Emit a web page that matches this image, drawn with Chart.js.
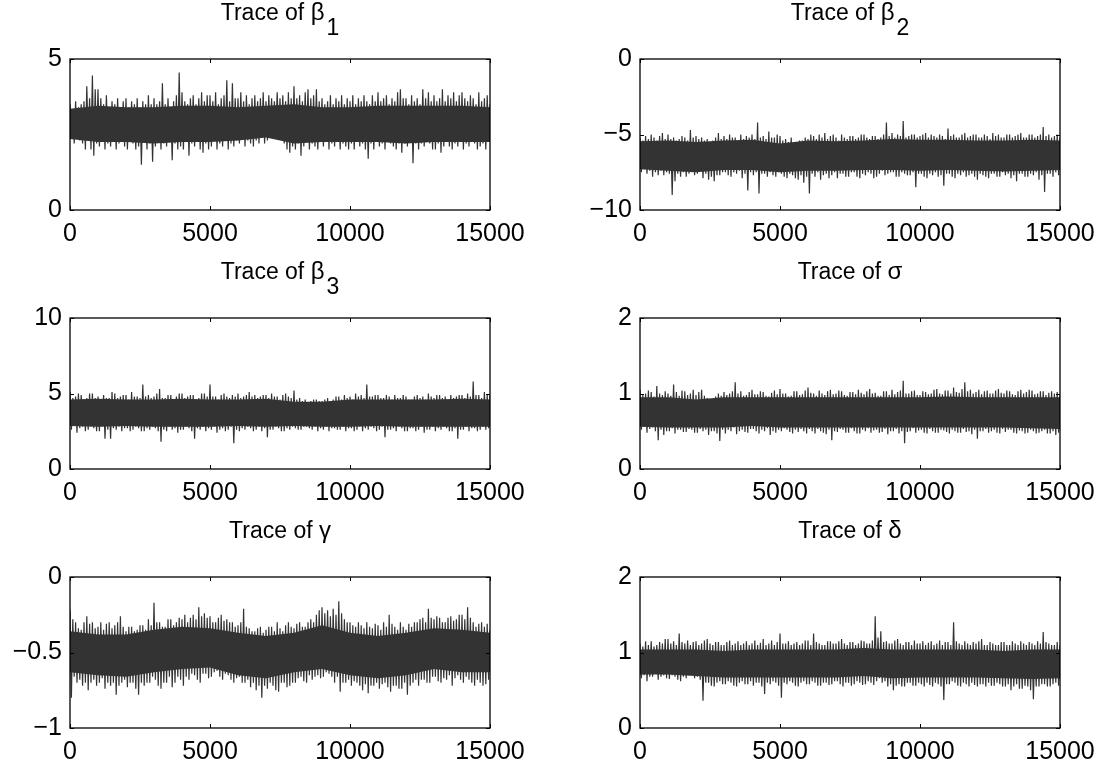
<!DOCTYPE html>
<html>
<head>
<meta charset="utf-8">
<script src="https://cdn.jsdelivr.net/npm/chart.js@4.4.1/dist/chart.umd.min.js"></script>
<style>
  html, body { margin: 0; padding: 0; background: #fff; }
  #wrap { position: relative; width: 1104px; height: 767px; overflow: hidden; }
  #wrap canvas { position: absolute; }
</style>
</head>
<body>
<div id="wrap"></div>
<script>
// iteration axis
const iterTicks = [0, 5000, 10000, 15000];
const traceStep = 50;    // iterations between trace values
const coreStep = 1000;   // iterations between core band values

// tick labels of each y axis
const beta1Ticks = [0, 5];
const beta2Ticks = [-10, -5, 0];
const beta3Ticks = [0, 5, 10];
const sigmaTicks = [0, 1, 2];
const gammaTicks = [-1, -0.5, 0];
const deltaTicks = [0, 1, 2];

// traces (alternating upper / lower excursions)
const beta1 = [
  3.5,2.4, 3.3,2.2, 3.6,2.5, 3.4,2.3, 3.5,2.2, 3.6,2.0, 4.1,2.3, 3.7,2.0, 4.45,1.8, 4.0,2.2,
  4.0,2.1, 3.7,2.3, 3.5,2.0, 3.8,2.2, 3.4,2.1, 3.6,2.4, 3.5,2.0, 3.7,2.2, 3.4,2.3, 3.6,2.1,
  3.7,2.0, 3.4,2.3, 3.6,2.2, 3.5,2.0, 3.7,2.1, 3.4,1.5, 3.6,2.3, 3.5,2.0, 3.8,2.2, 3.5,1.6,
  3.7,2.1, 3.5,2.3, 3.6,2.0, 4.2,2.2, 3.5,2.1, 3.7,2.3, 3.4,1.65, 3.6,2.2, 3.8,2.0, 4.55,2.1,
  3.9,2.0, 3.6,2.3, 3.5,1.8, 3.7,2.2, 3.8,2.1, 3.5,2.3, 3.7,2.0, 3.9,1.9, 3.6,2.2, 3.8,2.0,
  3.8,2.1, 3.6,2.3, 3.9,2.0, 3.5,2.2, 3.7,2.1, 3.8,2.3, 4.3,2.0, 3.6,2.2, 4.2,2.1, 3.7,2.3,
  3.7,2.2, 3.9,2.4, 3.6,2.1, 3.8,2.3, 3.5,2.2, 3.7,2.1, 3.8,2.3, 3.6,2.2, 3.7,2.4, 3.9,2.2,
  3.6,2.3, 3.8,2.5, 3.7,2.4, 3.6,2.6, 3.9,2.5, 3.7,2.4, 3.8,2.2, 3.6,2.0, 3.9,1.9, 3.7,2.1,
  4.1,2.0, 3.7,2.2, 3.8,1.8, 3.6,2.1, 3.9,2.3, 4.0,2.0, 3.7,2.2, 3.8,2.1, 4.0,2.0, 3.6,2.3,
  3.7,2.1, 3.5,2.3, 3.6,2.0, 3.8,2.2, 3.5,2.1, 3.7,2.3, 3.6,2.0, 3.8,2.2, 3.5,2.1, 3.7,2.0,
  3.6,2.2, 3.8,2.0, 3.5,2.3, 3.7,2.1, 3.6,2.2, 3.8,2.0, 3.6,1.7, 3.5,2.2, 3.8,2.0, 3.6,2.3,
  3.9,2.1, 3.6,2.2, 3.7,2.0, 3.8,2.3, 3.5,2.2, 3.7,2.1, 3.6,2.0, 3.9,2.2, 4.0,1.9, 3.7,2.2,
  3.7,2.1, 3.5,2.3, 3.8,1.55, 3.6,2.2, 3.7,2.0, 3.5,2.2, 4.0,2.1, 3.7,2.3, 3.9,2.2, 3.6,2.0,
  3.8,2.0, 3.6,2.2, 3.7,1.9, 4.0,2.1, 3.6,2.3, 3.8,2.1, 3.7,2.0, 3.9,2.2, 3.6,2.1, 3.8,2.3,
  3.9,2.0, 3.7,2.2, 3.6,2.1, 3.8,2.3, 3.7,2.2, 3.5,2.0, 3.9,2.1, 3.6,2.2, 3.7,2.0, 3.8,2.3,
  3.5
];
const beta1CoreHi = [3.35, 3.45, 3.4, 3.4, 3.45, 3.45, 3.4, 3.45, 3.5, 3.4, 3.4, 3.45, 3.45, 3.45, 3.45, 3.4];
const beta1CoreLo = [2.35, 2.25, 2.25, 2.2, 2.25, 2.25, 2.3, 2.4, 2.2, 2.25, 2.25, 2.25, 2.2, 2.25, 2.25, 2.25];

const beta2 = [
  -5.2,-7.5, -5.4,-7.3, -5.1,-7.6, -5.3,-7.4, -5.0,-7.8, -5.2,-7.5, -5.4,-7.7, -5.1,-7.4, -4.9,-7.7, -5.3,-7.5,
  -5.0,-7.6, -5.3,-9.0, -5.2,-8.1, -5.4,-7.6, -5.3,-7.8, -5.1,-7.5, -5.2,-7.8, -5.4,-7.6, -4.7,-7.5, -5.2,-7.7,
  -5.1,-7.6, -5.3,-7.4, -5.2,-7.9, -5.4,-7.6, -5.3,-8.0, -5.5,-7.8, -5.4,-8.1, -5.2,-7.7, -4.9,-7.7, -5.3,-7.5,
  -5.1,-7.5, -5.3,-7.7, -5.0,-7.8, -5.2,-7.5, -5.2,-7.6, -5.4,-7.4, -5.0,-7.9, -5.3,-7.6, -5.1,-8.7, -5.2,-7.5,
  -5.0,-7.7, -5.3,-7.5, -4.2,-8.9, -5.2,-7.6, -5.1,-7.6, -5.3,-7.8, -4.8,-7.5, -5.2,-7.7, -5.2,-7.8, -5.0,-7.5,
  -5.1,-7.6, -5.4,-7.8, -5.3,-7.9, -5.5,-7.6, -5.2,-7.7, -5.6,-7.9, -5.5,-8.0, -5.4,-7.7, -5.4,-8.2, -5.2,-7.8,
  -5.3,-8.9, -5.0,-7.6, -5.1,-7.8, -5.3,-7.5, -5.0,-8.0, -5.2,-7.7, -4.9,-7.6, -5.3,-7.9, -5.1,-7.7, -5.0,-7.5,
  -5.2,-7.9, -5.4,-7.6, -5.0,-7.6, -5.2,-7.8, -5.3,-7.8, -5.1,-7.5, -5.1,-7.5, -5.3,-7.8, -5.2,-7.9, -5.0,-7.6,
  -5.0,-7.7, -5.2,-7.5, -5.3,-7.6, -5.1,-7.9, -5.1,-7.8, -5.3,-7.6, -5.2,-7.4, -5.0,-7.7, -4.2,-7.6, -5.1,-7.5,
  -4.9,-7.5, -5.2,-7.8, -5.0,-7.8, -5.1,-7.5, -4.1,-7.6, -5.2,-7.7, -5.1,-7.7, -5.0,-7.5, -5.0,-8.5, -5.2,-7.6,
  -5.1,-7.6, -5.0,-7.8, -4.9,-7.9, -5.2,-7.6, -5.0,-7.7, -5.1,-7.5, -5.2,-7.8, -5.0,-7.7, -5.1,-8.4, -5.3,-7.6,
  -4.6,-7.6, -5.1,-7.8, -5.0,-7.9, -5.2,-7.6, -5.2,-7.7, -5.0,-7.5, -4.9,-7.8, -5.2,-7.7, -5.1,-7.6, -5.0,-7.8,
  -5.0,-8.0, -5.2,-7.6, -5.2,-7.7, -5.0,-7.8, -5.1,-7.9, -5.3,-7.6, -4.9,-7.6, -5.1,-7.8, -5.0,-7.8, -5.2,-7.5,
  -5.2,-7.7, -5.0,-7.6, -5.0,-7.9, -5.2,-7.7, -5.1,-8.1, -5.0,-7.6, -4.9,-7.6, -5.2,-7.8, -5.2,-7.8, -5.0,-7.6,
  -5.0,-7.7, -5.2,-7.5, -5.1,-8.0, -5.0,-7.7, -4.5,-8.8, -5.1,-7.6, -5.0,-7.6, -5.2,-7.8, -5.1,-7.5, -5.0,-7.7,
  -5.2
];
const beta2CoreHi = [-5.45, -5.4, -5.5, -5.4, -5.35, -5.6, -5.4, -5.45, -5.4, -5.3, -5.35, -5.35, -5.4, -5.4, -5.35, -5.4];
const beta2CoreLo = [-7.3, -7.4, -7.5, -7.35, -7.35, -7.5, -7.4, -7.4, -7.35, -7.35, -7.4, -7.35, -7.4, -7.45, -7.4, -7.35];

const beta3 = [
  5.1,2.6, 4.7,2.9, 4.8,2.4, 5.0,2.7, 4.9,2.8, 4.6,2.5, 4.7,2.6, 5.0,2.8, 5.0,2.7, 4.7,2.5,
  4.8,2.5, 4.6,2.8, 4.9,2.0, 4.7,2.6, 4.7,2.0, 5.1,2.7, 5.0,2.6, 4.7,2.8, 4.8,2.5, 4.9,2.7,
  4.9,2.7, 4.6,2.5, 5.1,2.6, 4.8,2.8, 4.8,2.7, 4.7,2.5, 5.6,2.5, 4.8,2.7, 4.9,2.6, 4.7,2.8,
  4.8,2.7, 5.0,2.5, 5.3,1.8, 4.7,2.6, 4.7,2.5, 4.9,2.8, 4.9,2.6, 4.6,2.7, 4.8,2.4, 5.0,2.6,
  5.0,2.6, 4.7,2.8, 4.8,2.7, 4.9,2.5, 4.9,2.0, 4.6,2.7, 4.7,2.6, 5.0,2.8, 5.0,2.5, 4.8,2.7,
  5.6,2.6, 4.8,2.8, 4.8,2.4, 4.6,2.6, 4.9,2.7, 5.0,2.5, 4.8,2.6, 4.7,2.8, 4.9,1.7, 4.8,2.6,
  5.0,2.5, 4.7,2.7, 4.8,2.6, 4.9,2.8, 5.1,2.7, 4.8,2.5, 4.9,2.6, 4.7,2.8, 4.8,2.5, 4.9,2.7,
  4.9,2.1, 4.7,2.6, 5.0,2.6, 4.8,2.8, 4.8,2.7, 4.6,2.5, 4.9,2.5, 5.0,2.7, 4.8,2.6, 4.7,2.8,
  5.2,2.7, 4.6,2.6, 4.7,2.6, 4.5,2.8, 4.6,2.8, 4.4,2.7, 4.5,2.6, 4.6,2.8, 4.6,2.5, 4.5,2.7,
  4.5,2.6, 4.6,2.8, 4.7,2.5, 4.5,2.7, 4.6,2.7, 4.8,2.6, 4.8,2.6, 4.6,2.8, 4.9,2.5, 4.7,2.7,
  4.8,2.7, 4.6,2.5, 5.0,2.6, 4.8,2.8, 4.9,2.5, 4.7,2.7, 5.6,2.6, 4.8,2.8, 4.8,2.7, 4.9,2.5,
  4.9,2.6, 4.7,2.8, 4.7,2.1, 4.9,2.6, 4.8,2.6, 4.6,2.7, 4.9,2.5, 4.7,2.8, 4.7,2.7, 4.9,2.5,
  4.8,2.5, 4.6,2.7, 4.6,2.7, 4.8,2.5, 4.9,2.6, 4.7,2.8, 4.8,2.4, 4.6,2.6, 5.0,2.6, 4.8,2.8,
  4.7,2.5, 4.9,2.7, 4.9,2.6, 4.7,2.8, 4.8,2.7, 4.6,2.5, 4.9,2.5, 4.7,2.7, 4.8,2.0, 4.9,2.6,
  4.9,2.6, 4.7,2.8, 5.0,2.5, 4.8,2.7, 5.8,2.7, 4.9,2.5, 4.9,2.6, 4.7,2.8, 5.1,2.6, 4.9,2.7,
  4.9
];
const beta3CoreHi = [4.6, 4.65, 4.6, 4.6, 4.65, 4.6, 4.6, 4.65, 4.45, 4.45, 4.6, 4.6, 4.6, 4.6, 4.65, 4.6];
const beta3CoreLo = [2.85, 2.8, 2.85, 2.8, 2.8, 2.8, 2.85, 2.8, 2.85, 2.8, 2.8, 2.85, 2.8, 2.8, 2.8, 2.8];

const sigma = [
  1.05,0.52, 0.98,0.56, 1.0,0.48, 1.04,0.53, 1.02,0.55, 0.96,0.5, 1.1,0.38, 1.0,0.52, 0.98,0.45, 1.03,0.5,
  1.0,0.5, 0.97,0.54, 1.12,0.47, 1.02,0.52, 0.97,0.52, 1.04,0.49, 1.03,0.49, 0.98,0.53, 1.0,0.52, 1.05,0.48,
  0.98,0.48, 1.02,0.53, 1.05,0.5, 0.97,0.52, 0.94,0.45, 0.92,0.5, 0.93,0.5, 0.96,0.47, 1.0,0.37, 0.97,0.52,
  1.02,0.47, 0.98,0.52, 1.0,0.5, 1.03,0.55, 1.15,0.46, 1.0,0.5, 1.03,0.52, 0.97,0.49, 0.98,0.48, 1.02,0.53,
  1.05,0.53, 0.99,0.5, 0.99,0.47, 1.03,0.52, 1.02,0.5, 0.97,0.54, 0.96,0.45, 1.01,0.5, 1.04,0.48, 0.99,0.52,
  1.06,0.5, 1.0,0.54, 1.0,0.52, 0.96,0.49, 0.97,0.47, 1.03,0.52, 1.03,0.49, 0.98,0.53, 0.99,0.5, 1.04,0.47,
  1.08,0.53, 1.01,0.5, 1.0,0.47, 0.97,0.53, 1.04,0.5, 1.0,0.48, 0.98,0.46, 1.03,0.52, 1.05,0.38, 0.99,0.5,
  1.0,0.49, 1.04,0.53, 1.03,0.52, 0.98,0.48, 0.97,0.48, 1.02,0.54, 1.02,0.5, 0.99,0.47, 1.05,0.47, 1.01,0.52,
  0.99,0.5, 1.03,0.54, 1.06,0.48, 1.0,0.51, 1.01,0.52, 0.97,0.48, 0.97,0.49, 1.03,0.53, 1.03,0.46, 0.98,0.5,
  1.05,0.5, 0.99,0.53, 1.02,0.47, 1.04,0.5, 1.17,0.34, 1.0,0.49, 1.0,0.5, 1.03,0.54, 1.04,0.48, 0.98,0.51,
  0.98,0.52, 1.03,0.48, 1.02,0.47, 0.99,0.53, 1.0,0.5, 1.05,0.48, 1.06,0.48, 1.0,0.52, 0.99,0.51, 1.04,0.49,
  1.04,0.47, 1.0,0.52, 1.08,0.5, 1.02,0.48, 1.01,0.48, 1.06,0.53, 1.15,0.49, 1.03,0.5, 1.05,0.46, 1.0,0.52,
  1.02,0.4, 1.05,0.5, 0.99,0.5, 1.03,0.53, 1.04,0.48, 1.0,0.5, 1.0,0.52, 1.04,0.48, 1.06,0.47, 1.01,0.53,
  1.0,0.49, 1.04,0.52, 1.03,0.52, 0.99,0.48, 0.98,0.47, 1.03,0.51, 1.05,0.5, 1.0,0.47, 1.02,0.48, 1.05,0.52,
  1.04,0.5, 0.99,0.47, 1.0,0.48, 1.03,0.5, 1.03,0.52, 0.98,0.47, 1.01,0.47, 1.03,0.5, 1.0,0.45, 1.02,0.48,
  0.98
];
const sigmaCoreHi = [0.95, 0.95, 0.92, 0.95, 0.95, 0.95, 0.95, 0.95, 0.95, 0.95, 0.95, 0.96, 0.95, 0.95, 0.95, 0.95];
const sigmaCoreLo = [0.56, 0.55, 0.55, 0.55, 0.57, 0.55, 0.55, 0.55, 0.55, 0.55, 0.55, 0.55, 0.55, 0.55, 0.54, 0.53];

const gamma = [
  -0.22,-0.8, -0.28,-0.66, -0.3,-0.7, -0.34,-0.68, -0.35,-0.72, -0.3,-0.7, -0.26,-0.75, -0.31,-0.7, -0.3,-0.68, -0.34,-0.72,
  -0.33,-0.7, -0.3,-0.67, -0.35,-0.74, -0.31,-0.7, -0.3,-0.72, -0.34,-0.7, -0.32,-0.78, -0.3,-0.72, -0.26,-0.7, -0.33,-0.68,
  -0.36,-0.73, -0.33,-0.7, -0.33,-0.7, -0.36,-0.74, -0.35,-0.78, -0.32,-0.7, -0.32,-0.72, -0.35,-0.7, -0.28,-0.7, -0.32,-0.66,
  -0.17,-0.68, -0.3,-0.72, -0.3,-0.74, -0.33,-0.7, -0.33,-0.7, -0.28,-0.66, -0.28,-0.73, -0.32,-0.7, -0.3,-0.66, -0.27,-0.68,
  -0.28,-0.72, -0.25,-0.66, -0.3,-0.68, -0.27,-0.64, -0.25,-0.65, -0.28,-0.68, -0.2,-0.7, -0.26,-0.64, -0.24,-0.64, -0.27,-0.67,
  -0.26,-0.66, -0.3,-0.63, -0.3,-0.62, -0.27,-0.66, -0.25,-0.68, -0.29,-0.64, -0.28,-0.65, -0.3,-0.68, -0.3,-0.7, -0.33,-0.67,
  -0.32,-0.66, -0.3,-0.7, -0.21,-0.7, -0.33,-0.68, -0.34,-0.73, -0.36,-0.7, -0.36,-0.75, -0.34,-0.72, -0.33,-0.8, -0.37,-0.72,
  -0.35,-0.74, -0.33,-0.7, -0.33,-0.72, -0.36,-0.75, -0.3,-0.76, -0.34,-0.7, -0.36,-0.7, -0.32,-0.73, -0.3,-0.72, -0.33,-0.7,
  -0.34,-0.7, -0.31,-0.67, -0.3,-0.66, -0.33,-0.69, -0.33,-0.7, -0.3,-0.65, -0.28,-0.68, -0.3,-0.66, -0.25,-0.65, -0.22,-0.67,
  -0.2,-0.66, -0.24,-0.63, -0.22,-0.64, -0.26,-0.66, -0.21,-0.7, -0.25,-0.66, -0.16,-0.76, -0.24,-0.7, -0.28,-0.7, -0.3,-0.68,
  -0.3,-0.72, -0.32,-0.69, -0.33,-0.7, -0.3,-0.72, -0.32,-0.75, -0.34,-0.71, -0.3,-0.77, -0.33,-0.72, -0.34,-0.72, -0.31,-0.7,
  -0.32,-0.74, -0.35,-0.71, -0.3,-0.7, -0.33,-0.73, -0.25,-0.76, -0.31,-0.72, -0.33,-0.72, -0.35,-0.74, -0.3,-0.74, -0.33,-0.7,
  -0.35,-0.78, -0.31,-0.72, -0.33,-0.7, -0.3,-0.68, -0.3,-0.72, -0.28,-0.68, -0.27,-0.68, -0.3,-0.7, -0.21,-0.7, -0.27,-0.66,
  -0.28,-0.66, -0.26,-0.69, -0.27,-0.7, -0.3,-0.67, -0.3,-0.68, -0.27,-0.65, -0.26,-0.72, -0.29,-0.67, -0.28,-0.65, -0.25,-0.68,
  -0.25,-0.7, -0.28,-0.66, -0.2,-0.68, -0.27,-0.7, -0.3,-0.72, -0.33,-0.68, -0.31,-0.7, -0.3,-0.72, -0.33,-0.71, -0.31,-0.68,
  -0.35
];
const gammaCoreHi = [-0.36, -0.38, -0.38, -0.35, -0.33, -0.34, -0.37, -0.39, -0.37, -0.32, -0.37, -0.39, -0.37, -0.34, -0.35, -0.37];
const gammaCoreLo = [-0.63, -0.65, -0.66, -0.63, -0.61, -0.6, -0.65, -0.67, -0.63, -0.61, -0.65, -0.67, -0.65, -0.61, -0.63, -0.63];

const delta = [
  1.12,0.66, 1.08,0.7, 1.15,0.62, 1.1,0.68, 1.15,0.68, 1.08,0.72, 1.1,0.64, 1.14,0.68, 1.12,0.7, 1.18,0.66,
  1.18,0.65, 1.12,0.7, 1.15,0.68, 1.1,0.64, 1.25,0.62, 1.14,0.68, 1.12,0.66, 1.16,0.7, 1.1,0.7, 1.14,0.66,
  1.15,0.68, 1.1,0.64, 1.12,0.36, 1.16,0.6, 1.18,0.6, 1.12,0.56, 1.1,0.55, 1.14,0.6, 1.14,0.62, 1.1,0.58,
  1.1,0.58, 1.14,0.62, 1.16,0.6, 1.1,0.56, 1.12,0.55, 1.15,0.6, 1.1,0.62, 1.12,0.58, 1.15,0.58, 1.1,0.62,
  1.12,0.56, 1.16,0.6, 1.1,0.6, 1.13,0.55, 1.18,0.45, 1.1,0.6, 1.12,0.58, 1.16,0.62, 1.1,0.6, 1.14,0.56,
  1.25,0.4, 1.12,0.6, 1.12,0.58, 1.15,0.62, 1.1,0.6, 1.12,0.56, 1.14,0.55, 1.1,0.6, 1.12,0.62, 1.16,0.58,
  1.16,0.58, 1.1,0.62, 1.25,0.6, 1.14,0.56, 1.12,0.56, 1.1,0.6, 1.1,0.6, 1.15,0.57, 1.15,0.58, 1.12,0.62,
  1.12,0.62, 1.15,0.58, 1.18,0.55, 1.12,0.6, 1.1,0.6, 1.14,0.56, 1.14,0.58, 1.1,0.62, 1.12,0.6, 1.16,0.57,
  1.15,0.58, 1.12,0.62, 1.12,0.6, 1.16,0.57, 1.48,0.62, 1.2,0.66, 1.28,0.6, 1.14,0.62, 1.15,0.55, 1.12,0.58,
  1.12,0.5, 1.16,0.56, 1.18,0.58, 1.12,0.55, 1.1,0.55, 1.14,0.6, 1.14,0.6, 1.1,0.56, 1.16,0.56, 1.12,0.6,
  1.12,0.58, 1.15,0.55, 1.1,0.6, 1.13,0.57, 1.15,0.55, 1.1,0.6, 1.12,0.58, 1.16,0.55, 1.1,0.37, 1.14,0.58,
  1.14,0.58, 1.1,0.62, 1.4,0.6, 1.15,0.56, 1.12,0.55, 1.1,0.6, 1.15,0.58, 1.12,0.55, 1.1,0.6, 1.14,0.57,
  1.12,0.55, 1.15,0.58, 1.18,0.58, 1.1,0.55, 1.1,0.6, 1.14,0.56, 1.12,0.56, 1.1,0.6, 1.1,0.58, 1.14,0.55,
  1.14,0.55, 1.1,0.58, 1.1,0.5, 1.15,0.55, 1.12,0.58, 1.1,0.52, 1.15,0.52, 1.12,0.56, 1.1,0.55, 1.14,0.5,
  1.12,0.38, 1.1,0.55, 1.15,0.55, 1.12,0.58, 1.27,0.58, 1.14,0.55, 1.12,0.55, 1.1,0.58, 1.1,0.6, 1.14,0.56,
  1.1
];
const deltaCoreHi = [1.04, 1.04, 1.04, 1.02, 1.04, 1.04, 1.04, 1.04, 1.06, 1.04, 1.04, 1.04, 1.04, 1.02, 1.04, 1.04];
const deltaCoreLo = [0.71, 0.71, 0.69, 0.67, 0.67, 0.67, 0.67, 0.67, 0.69, 0.66, 0.67, 0.67, 0.67, 0.66, 0.65, 0.66];

const traceColor = '#333333';
const fontFamily = '"Liberation Sans", Arial, Helvetica, sans-serif';

const panels = [
  { sym: 'β', sub: '1', trace: beta1, hi: beta1CoreHi, lo: beta1CoreLo, ticks: beta1Ticks, col: 0, row: 0 },
  { sym: 'β', sub: '2', trace: beta2, hi: beta2CoreHi, lo: beta2CoreLo, ticks: beta2Ticks, col: 1, row: 0 },
  { sym: 'β', sub: '3', trace: beta3, hi: beta3CoreHi, lo: beta3CoreLo, ticks: beta3Ticks, col: 0, row: 1 },
  { sym: 'σ', sub: '',  trace: sigma, hi: sigmaCoreHi, lo: sigmaCoreLo, ticks: sigmaTicks, col: 1, row: 1 },
  { sym: 'γ', sub: '',  trace: gamma, hi: gammaCoreHi, lo: gammaCoreLo, ticks: gammaTicks, col: 0, row: 2 },
  { sym: 'δ', sub: '',  trace: delta, hi: deltaCoreHi, lo: deltaCoreLo, ticks: deltaTicks, col: 1, row: 2 }
];

const fmt = v => String(v).replace('-', '\u2212');
const toXY = (arr, step) => arr.map((y, i) => ({ x: i * step, y: y }));

// axes box with small inward ticks on all four sides
const boxPlugin = {
  id: 'matlabBox',
  afterDatasetsDraw(chart) {
    const { ctx, chartArea: a, scales } = chart;
    const len = 4;
    ctx.save();
    ctx.strokeStyle = '#000';
    ctx.lineWidth = 1.3;
    ctx.strokeRect(a.left, a.top, a.right - a.left, a.bottom - a.top);
    ctx.lineWidth = 1;
    ctx.beginPath();
    scales.x.ticks.forEach(t => {
      const px = Math.round(scales.x.getPixelForValue(t.value)) + 0.5;
      ctx.moveTo(px, a.bottom); ctx.lineTo(px, a.bottom - len);
      ctx.moveTo(px, a.top); ctx.lineTo(px, a.top + len);
    });
    scales.y.ticks.forEach(t => {
      const py = Math.round(scales.y.getPixelForValue(t.value)) + 0.5;
      ctx.moveTo(a.left, py); ctx.lineTo(a.left + len, py);
      ctx.moveTo(a.right, py); ctx.lineTo(a.right - len, py);
    });
    ctx.stroke();
    ctx.restore();
  }
};

// "Trace of <symbol><subscript>" centred above the axes
const titlePlugin = {
  id: 'traceTitle',
  afterDraw(chart, args, opts) {
    const { ctx, chartArea: a } = chart;
    const main = 'Trace of ';
    const mainFont = '23px ' + fontFamily;
    const symFont = '24px ' + fontFamily;
    const subFont = '23px ' + fontFamily;
    ctx.save();
    ctx.fillStyle = '#000';
    ctx.textBaseline = 'alphabetic';
    ctx.textAlign = 'left';
    ctx.font = mainFont; const w1 = ctx.measureText(main).width;
    ctx.font = symFont;  const w2 = ctx.measureText(opts.sym).width;
    ctx.font = subFont;  const w3 = opts.sub ? ctx.measureText(opts.sub).width + 2 : 0;
    let x = (a.left + a.right) / 2 - (w1 + w2 + w3) / 2;
    const base = a.top - 39;
    ctx.font = mainFont; ctx.fillText(main, x, base); x += w1;
    ctx.font = symFont;  ctx.fillText(opts.sym, x, base); x += w2 + 2;
    if (opts.sub) { ctx.font = subFont; ctx.fillText(opts.sub, x, base + 15); }
    ctx.restore();
  }
};

const wrap = document.getElementById('wrap');
const colLayout = [
  { left: 0,   width: 552, padL: 70, padR: 62 },
  { left: 552, width: 552, padL: 88, padR: 44 }
];
const rowTop = [0, 259, 518];
const canvasH = 249, padT = 59, padB = 39;

panels.forEach(p => {
  const c = colLayout[p.col];
  const cv = document.createElement('canvas');
  cv.width = c.width; cv.height = canvasH;
  cv.style.left = c.left + 'px';
  cv.style.top = rowTop[p.row] + 'px';
  cv.style.width = c.width + 'px';
  cv.style.height = canvasH + 'px';
  wrap.appendChild(cv);

  const tickFont = { family: fontFamily, size: 25 };
  new Chart(cv.getContext('2d'), {
    type: 'line',
    data: {
      datasets: [
        { data: toXY(p.lo, coreStep), borderColor: 'transparent', borderWidth: 0, pointRadius: 0, fill: false },
        { data: toXY(p.hi, coreStep), borderColor: 'transparent', borderWidth: 0, pointRadius: 0, fill: '-1', backgroundColor: traceColor },
        { data: toXY(p.trace, traceStep), borderColor: traceColor, borderWidth: 1.2, pointRadius: 0, fill: false, tension: 0 }
      ]
    },
    options: {
      responsive: false,
      animation: false,
      devicePixelRatio: 1,
      events: [],
      layout: { padding: { top: padT, right: c.padR, left: 0, bottom: 0 } },
      plugins: {
        legend: { display: false },
        tooltip: { enabled: false },
        traceTitle: { sym: p.sym, sub: p.sub }
      },
      scales: {
        x: {
          type: 'linear',
          min: iterTicks[0],
          max: iterTicks[iterTicks.length - 1],
          afterBuildTicks: s => { s.ticks = iterTicks.map(v => ({ value: v })); },
          afterFit: s => { s.height = padB; },
          grid: { display: false, drawTicks: false },
          border: { display: false },
          ticks: { font: tickFont, color: '#000', padding: 9, maxRotation: 0, autoSkip: false, callback: v => fmt(v) }
        },
        y: {
          type: 'linear',
          min: p.ticks[0],
          max: p.ticks[p.ticks.length - 1],
          afterBuildTicks: s => { s.ticks = p.ticks.map(v => ({ value: v })); },
          afterFit: s => { s.width = c.padL; },
          grid: { display: false, drawTicks: false },
          border: { display: false },
          ticks: { font: tickFont, color: '#000', padding: 8, autoSkip: false, callback: v => fmt(v) }
        }
      }
    },
    plugins: [boxPlugin, titlePlugin]
  });
});
</script>
</body>
</html>
